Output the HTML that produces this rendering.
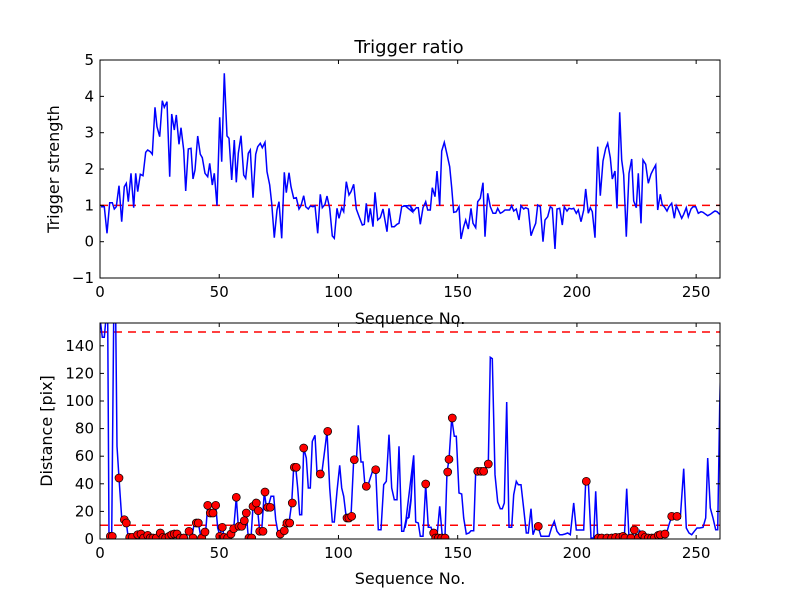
<!DOCTYPE html>
<html><head><style>
html,body{margin:0;padding:0;background:#fff;}
svg{display:block;font-family:"DejaVu Sans","Liberation Sans",sans-serif;}
</style></head><body>
<svg id="s" width="800" height="600" xmlns="http://www.w3.org/2000/svg">
<rect width="800" height="600" fill="#fff"/>
<defs>
<clipPath id="c1"><rect x="100" y="60" width="620" height="218"/></clipPath>
<clipPath id="c2"><rect x="100" y="323" width="620" height="216"/></clipPath>
</defs>
<g id="plots"></g>
<text x="409" y="53" font-size="18" text-anchor="middle">Trigger ratio</text>
<text x="410" y="324" font-size="16" text-anchor="middle">Sequence No.</text>
<text x="410" y="584" font-size="16" text-anchor="middle">Sequence No.</text>
<text transform="translate(59,169) rotate(-90)" font-size="16" text-anchor="middle">Trigger strength</text>
<text transform="translate(52,431) rotate(-90)" font-size="16" text-anchor="middle">Distance [pix]</text>
</svg>
<script>
var NS="http://www.w3.org/2000/svg";
var g=document.getElementById("plots");
function el(t,a,p){var e=document.createElementNS(NS,t);for(var k in a)e.setAttribute(k,a[k]);(p||g).appendChild(e);return e;}
function conv(arr,ox,oy){var r=[];for(var i=0;i<arr.length;i+=2)r.push([ox+arr[i]/3,oy+arr[i+1]/3]);return r;}
function pl(pts,clip,col,w,dash){var s=pts.map(function(p){return p[0].toFixed(1)+","+p[1].toFixed(1)}).join(" ");var a={points:s,fill:"none",stroke:col,"stroke-width":w,"clip-path":"url(#"+clip+")"};if(dash)a["stroke-dasharray"]=dash;el("polyline",a);}
var t1=[18,455,28,455,36,535,44,443,52,443,58,462,64,455,72,392,80,500,88,395,94,385,100,440,108,355,116,458,122,355,128,410,136,358,144,362,152,292,158,285,166,290,172,298,180,157,186,215,194,245,202,137,208,157,216,140,224,365,230,177,238,225,244,180,252,268,258,218,266,285,272,408,280,282,288,280,294,372,300,345,308,243,316,298,322,308,330,355,338,365,344,325,352,390,358,355,366,452,374,187,380,320,388,55,396,243,402,250,410,375,418,255,424,382,430,295,438,242,446,360,452,370,460,295,466,285,474,428,482,298,488,275,496,265,502,278,510,262,516,350,524,390,530,445,538,548,546,465,552,440,560,550,568,352,574,413,582,353,588,395,596,430,604,428,612,462,618,452,626,422,632,455,640,462,646,453,654,455,660,452,668,535,676,418,682,458,690,448,696,423,704,460,712,543,718,550,726,460,732,490,740,458,746,470,754,380,762,420,768,410,776,388,784,462,794,490,802,510,808,508,814,445,820,502,826,460,834,515,840,412,848,495,856,488,864,462,876,530,882,460,890,515,898,515,906,508,912,505,920,455,934,452,946,452,952,470];
var t2=[0,452,16,452,26,468,34,458,40,458,46,508,54,458,62,440,68,465,76,465,82,398,90,425,96,348,104,452,110,288,118,262,126,298,134,335,140,398,146,472,154,470,162,455,168,552,176,515,182,495,190,522,198,460,204,505,212,518,218,440,226,430,234,383,240,545,248,415,256,455,264,475,272,475,278,460,286,475,292,472,300,465,306,465,314,465,320,452,326,468,334,462,342,495,348,452,356,462,362,458,370,462,378,542,384,525,392,505,398,450,406,455,414,560,420,495,428,485,436,455,442,460,450,582,456,462,464,460,472,510,478,455,486,468,492,460,500,462,506,460,514,475,520,465,528,500,536,465,542,402,550,475,556,458,562,470,570,548,578,275,586,422,594,318,602,280,608,265,616,308,622,372,630,348,636,460,644,172,650,315,656,360,664,545,672,355,680,312,686,438,694,458,700,355,708,505,714,315,722,328,730,385,738,357,744,345,752,330,758,465,766,418,772,450,778,455,786,468,792,455,800,445,808,490,814,452,822,470,830,490,836,478,844,458,850,485,858,462,864,455,872,455,880,475,888,470,894,472,902,478,908,482,916,478,924,472,930,468,936,470,944,478];
var b1=[15,0,22,58,28,58,33,0,38,0,42,655,50,655,56,0,62,0,66,385,72,480,80,600,88,605,94,615,100,660,108,655,114,660,122,650,130,648,136,655,144,660,150,655,158,650,166,658,172,655,180,660,186,660,196,645,202,655,210,660,216,660,222,655,228,650,236,648,244,648,250,650,258,658,264,660,272,658,282,640,290,660,298,615,304,612,310,615,318,660,326,658,332,640,338,563,346,585,354,585,362,563,368,630,374,650,382,628,388,658,394,660,400,645,408,648,416,632,424,538,430,625,438,625,446,608,454,585,460,660,468,660,474,565,480,555,488,578,494,640,500,638,508,522,514,565,520,565,528,535,536,535,542,605,550,648,558,645,566,638,574,615,582,615,590,555,596,448,602,448,608,510,614,590,620,590,626,390,634,420,640,510,646,510,652,370,660,352,666,465,674,468,680,468,690,390,696,340,704,510,712,612,718,612,726,520,734,442,740,510,746,535,754,600,760,600,768,595,776,425,784,432,790,322,798,432,804,432,810,505,818,505,826,480,834,455,842,455,850,635,858,635,866,500,874,490,882,350,890,510,898,545,906,545,912,385,920,640,926,640,934,600,940,600,948,540,956,412];
var b2=[0,630,6,600,12,598,18,548,26,412,32,612,40,615,46,655,54,655,62,500,70,628,78,628,84,645,90,655,96,655,104,565,112,655,120,655,126,462,132,425,140,300,148,355,154,355,162,525,170,528,176,600,184,648,192,645,198,638,206,638,212,460,220,460,228,460,236,460,244,445,250,438,256,118,262,122,270,470,278,552,286,572,292,572,298,555,305,252,312,628,320,628,326,530,334,490,340,500,348,500,356,572,364,645,370,645,378,572,384,650,392,628,400,628,408,655,416,655,424,655,432,655,440,628,448,610,456,640,464,650,472,650,480,648,488,645,496,650,506,555,514,636,520,636,530,636,536,636,542,490,550,490,558,660,566,660,572,520,578,660,590,660,600,660,610,660,620,660,632,658,640,658,650,655,658,660,665,512,672,660,680,660,688,638,696,660,704,638,712,650,720,655,728,655,736,660,744,660,752,655,760,650,768,648,776,648,784,648,792,620,800,595,808,595,816,595,826,600,836,452,844,630,852,645,860,650,868,640,876,630,884,630,894,628,902,600,908,420,916,570,924,600,932,635,938,635,944,265,950,0];
var m1=[46,655,52,655,72,480,88,605,94,615,104,658,112,658,128,650,138,648,146,660,158,652,166,660,174,660,184,660,196,645,204,658,212,660,222,655,230,650,238,648,246,648,256,660,266,660,282,640,294,660,304,615,310,615,320,660,330,642,338,562,346,585,354,585,362,562,374,655,382,628,388,658,398,660,408,648,416,632,424,538,432,625,440,625,448,608,454,585,462,660,470,660,474,565,484,555,490,578,494,640,504,640,510,522,518,568,526,568,556,648,568,638,576,615,584,615,592,555,598,448,604,448,626,390,676,468,698,340,756,600,762,600,770,595,778,425,814,505,842,455];
var m2=[62,498,86,645,92,660,100,660,110,660,120,660,128,462,132,424,142,300,218,460,228,460,236,460,250,438,400,625,544,490,580,660,590,660,606,660,620,660,632,658,644,658,654,655,660,660,678,660,688,636,700,660,712,650,720,658,730,660,740,660,748,660,760,652,766,650,780,648,800,595,816,595];
el("line",{x1:100,y1:205.4,x2:720,y2:205.4,stroke:"#ff0000","stroke-width":1.5,"stroke-dasharray":"8,6"});
pl(conv(t1,95,55).concat(conv(t2,405,55)),"c1","#0000ff",1.5);
el("line",{x1:100,y1:332,x2:720,y2:332,stroke:"#ff0000","stroke-width":1.5,"stroke-dasharray":"8,6"});
el("line",{x1:100,y1:525.2,x2:720,y2:525.2,stroke:"#ff0000","stroke-width":1.5,"stroke-dasharray":"8,6"});
pl(conv(b1,95,318).concat(conv(b2,405,318)),"c2","#0000ff",1.5);
var mg=el("g",{"clip-path":"url(#c2)"});
conv(m1,95,318).concat(conv(m2,405,318)).forEach(function(p){el("circle",{cx:p[0].toFixed(1),cy:p[1].toFixed(1),r:4,fill:"#ff0000",stroke:"#000","stroke-width":0.7},mg);});
function axes(y0,y1,yt){
 el("rect",{x:100,y:y0,width:620,height:y1-y0,fill:"none",stroke:"#000","stroke-width":1});
 [0,50,100,150,200,250].forEach(function(v){var x=100+v*2.3846;el("line",{x1:x,y1:y1,x2:x,y2:y1-4,stroke:"#000"});el("line",{x1:x,y1:y0,x2:x,y2:y0+4,stroke:"#000"});var t=el("text",{x:x,y:y1+19,"font-size":15,"text-anchor":"middle"});t.textContent=v;});
 yt.forEach(function(a){var y=a[0];el("line",{x1:100,y1:y,x2:104,y2:y,stroke:"#000"});el("line",{x1:720,y1:y,x2:716,y2:y,stroke:"#000"});var t=el("text",{x:94,y:y+5,"font-size":15,"text-anchor":"end"});t.textContent=a[1];});
}
var yt1=[];for(var v=-1;v<=5;v++)yt1.push([241.7-v*36.33,v<0?"\u22121":v]);
axes(60,278,yt1);
var yt2=[];for(var v=0;v<=140;v+=20)yt2.push([539-v*1.38,v]);
axes(323,539,yt2);
</script>
</body></html>
